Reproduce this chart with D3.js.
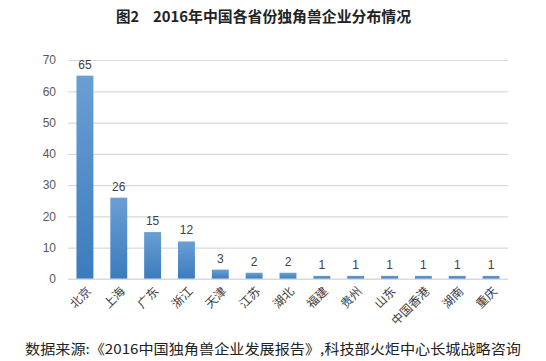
<!DOCTYPE html>
<meta charset="utf-8">
<body style="margin:0;background:#fff">
<script src="https://cdn.jsdelivr.net/npm/d3@7"></script>
<script>

var provinces = ['北京','上海','广东','浙江','天津','江苏','湖北','福建','贵州','山东','中国香港','湖南','重庆'];
var counts = [65, 26, 15, 12, 3, 2, 2, 1, 1, 1, 1, 1, 1];
var yTicks = [0, 10, 20, 30, 40, 50, 60, 70];

var W = 546, H = 361;
var M = {l: 68, r: 38, t: 60, b: 82};

var svg = d3.select('body').append('svg')
    .attr('width', W).attr('height', H)
    .style('font-family', '"Noto Sans CJK SC", "Noto Sans", sans-serif');

var grad = svg.append('defs').append('linearGradient')
    .attr('id', 'barfill').attr('x1', 0).attr('x2', 0).attr('y1', 0).attr('y2', 1);
grad.append('stop').attr('offset', '0%').attr('stop-color', '#6a9fd4');
grad.append('stop').attr('offset', '100%').attr('stop-color', '#3b7bbd');

var x = d3.scaleBand().domain(provinces).range([M.l, W - M.r]).paddingInner(0.5).paddingOuter(0.25);
var y = d3.scaleLinear().domain([0, 70]).range([H - M.b, M.t]);

// title
var title = svg.append('text')
  .attr('y', 22)
  .attr('font-size', 14.5).attr('font-weight', 'bold')
  .attr('fill', '#222');
title.append('tspan').attr('x', 116).text('图2');
title.append('tspan').attr('x', 153).attr('textLength', 258).attr('lengthAdjust', 'spacingAndGlyphs')
  .text('2016年中国各省份独角兽企业分布情况');

// grid
var yAxis = d3.axisLeft(y).tickValues(yTicks).tickSize(-(W - M.l - M.r)).tickPadding(12);
var gy = svg.append('g').attr('transform', 'translate(' + M.l + ',0)').call(yAxis);
gy.select('.domain').remove();
gy.selectAll('.tick line').attr('stroke', '#d9d9d9').attr('stroke-width', 1.2);
gy.selectAll('.tick text').attr('fill', '#595959').attr('font-size', 12)
  .style('font-family', '"Liberation Sans", Arial, sans-serif');

// bars
svg.append('g').selectAll('rect').data(counts).join('rect')
  .attr('x', (d, i) => x(provinces[i]))
  .attr('y', d => y(d))
  .attr('width', x.bandwidth())
  .attr('height', d => y(0) - y(d))
  .attr('fill', 'url(#barfill)');

// value labels
svg.append('g').selectAll('text').data(counts).join('text')
  .attr('x', (d, i) => x(provinces[i]) + x.bandwidth() / 2)
  .attr('y', d => y(d) - 7)
  .attr('text-anchor', 'middle')
  .attr('font-size', 12)
  .attr('fill', '#404040')
  .style('font-family', '"Liberation Sans", Arial, sans-serif')
  .text(d => d);

// x axis line
svg.append('line')
  .attr('x1', M.l).attr('x2', W - M.r)
  .attr('y1', y(0)).attr('y2', y(0))
  .attr('stroke', '#d9d9d9').attr('stroke-width', 1.2);

// category labels
svg.append('g').selectAll('text').data(provinces).join('text')
  .attr('transform', d => 'translate(' + (x(d) + x.bandwidth() / 2 + 4) + ',' + (y(0) + 10) + ') rotate(-45)')
  .attr('text-anchor', 'end')
  .attr('dy', '0.35em')
  .attr('font-size', 12)
  .attr('fill', '#404040')
  .text(d => d);

// source
svg.append('text')
  .attr('x', 25).attr('y', 354)
  .attr('font-size', 13.5)
  .attr('fill', '#222')
  .attr('textLength', 496)
  .attr('lengthAdjust', 'spacingAndGlyphs')
  .text('数据来源:《2016中国独角兽企业发展报告》,科技部火炬中心长城战略咨询');

</script>
</body>
</html>
